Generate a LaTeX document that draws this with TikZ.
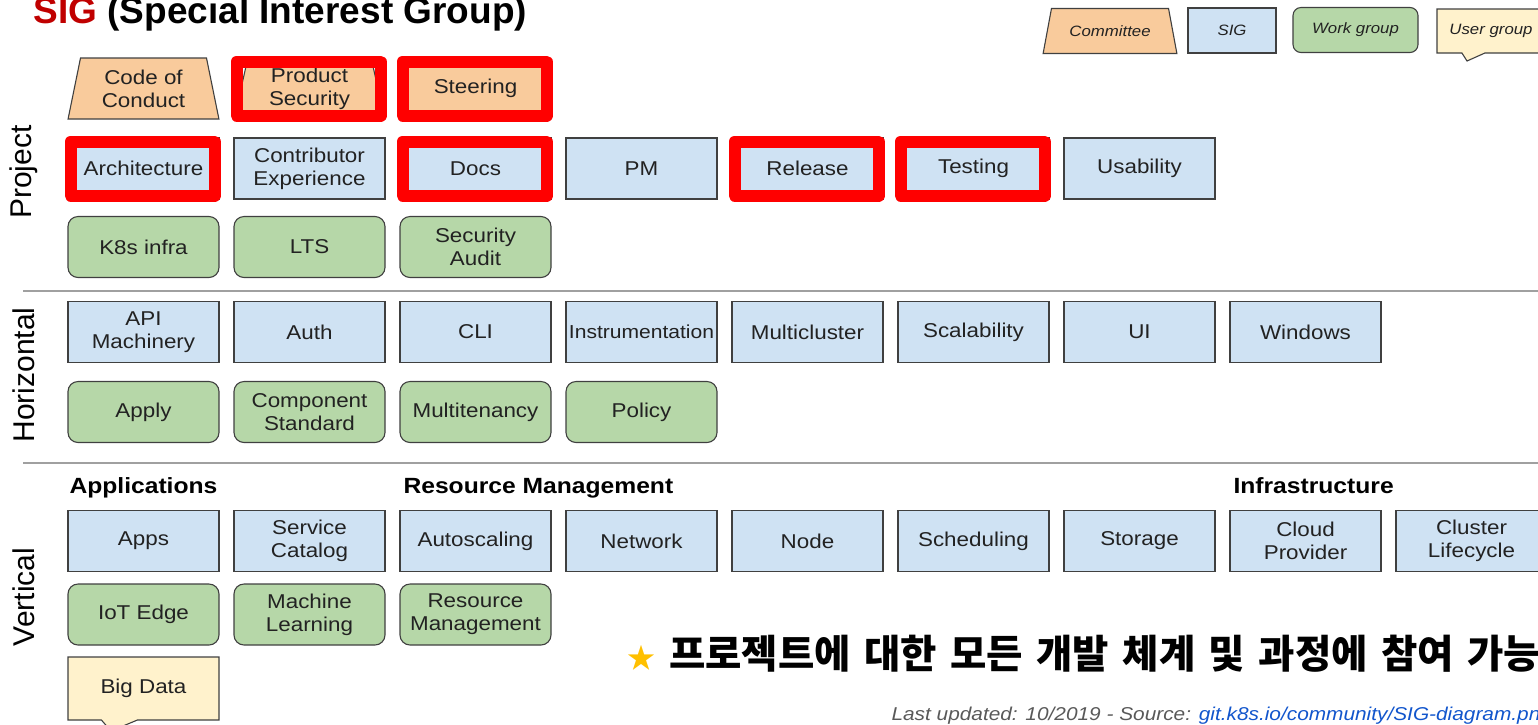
\documentclass[tikz,border=0pt]{standalone}
\usepackage{fontspec}
\setmainfont{Liberation Sans}
\newfontfamily\widefont{Liberation Sans}[FakeStretch=1.12]
\newfontfamily\cjk{Noto Sans CJK KR}
\usepackage{xcolor}
\usetikzlibrary{shapes.geometric, shapes.callouts, positioning}

\definecolor{sigblue}{HTML}{CFE2F3}
\definecolor{wggreen}{HTML}{B6D7A8}
\definecolor{cmteorange}{HTML}{F9CB9C}
\definecolor{ugyellow}{HTML}{FFF2CC}
\definecolor{boxline}{HTML}{404040}
\definecolor{txt}{HTML}{222222}
\definecolor{sigred}{HTML}{C00000}
\definecolor{starcol}{HTML}{FFC000}
\definecolor{sepgray}{HTML}{A0A0A0}
\definecolor{linkblue}{HTML}{1155CC}
\definecolor{footgray}{HTML}{595959}

\tikzset{
  box/.style={draw=boxline, line width=1.1pt, text=txt, align=center,
    font=\widefont\fontsize{20}{23}\selectfont, minimum width=151pt, minimum height=61pt, inner sep=1pt},
  sig/.style={box, fill=sigblue},
  wgrp/.style={box, fill=wggreen, rounded corners=10pt},
  cmte/.style={box, fill=cmteorange, trapezium, trapezium stretches=true,
    trapezium left angle=78, trapezium right angle=78},
  ugrp/.style={box, fill=ugyellow, rectangle callout, callout pointer width=36pt},
  redbox/.style={draw=red, line width=12pt, line join=round},
  side/.style={rotate=90, font=\fontsize{30}{30}\selectfont},
  grouplbl/.style={anchor=base west, font=\widefont\bfseries\fontsize{22}{24}\selectfont},
  legend/.style={font=\widefont\itshape\fontsize{15}{18}\selectfont, minimum height=45pt},
  sepline/.style={draw=sepgray, line width=1.5pt}
}

\begin{document}
\begin{tikzpicture}[x=1pt, y=-1pt, node distance=166pt]
\useasboundingbox (0,0) rectangle (1538,724);

% title and legend
\node (title) [anchor=base west, font=\bfseries\fontsize{37}{40}\selectfont] at (30,23)
  {\textcolor{sigred}{SIG} (Special Interest Group)};
\node (legcmte) [cmte, legend, minimum width=134pt, trapezium left angle=65.5, trapezium right angle=65.5] at (1110,31) {Committee};
\node (legsig) [sig, legend, minimum width=88pt] at (1232,30.5) {SIG};
\node (legwg) [wgrp, legend, minimum width=125pt, rounded corners=8pt] at (1355.5,30) {Work group};
\node (legug) [ugrp, legend, minimum width=108pt, minimum height=44pt, callout pointer width=23pt,
  callout absolute pointer={(1467,61)}] at (1491,31) {User group};

% side labels
\node (lblproj) [side] at (24,172) {Project};
\node (lblhoriz) [side] at (24,375) {Horizontal};
\node (lblvert) [side] at (24,597) {Vertical};

\draw[sepline] (23,291) -- (1538,291);
\draw[sepline] (23,463) -- (1538,463);

% project
\node (cconduct) [cmte] at (143.5,88.5) {Code of\\Conduct};
\node (prodsec) [right of=cconduct, cmte] {Product\\Security};
\node (steer) [right of=prodsec, cmte] {Steering};

\node (arch) [sig] at (143.5,168.5) {Architecture};
\node (contrib) [right of=arch, sig] {Contributor\\Experience};
\node (docs) [right of=contrib, sig] {Docs};
\node (pm) [right of=docs, sig] {PM};
\node (release) [right of=pm, sig] {Release};
\node (testing) [right of=release, sig] {Testing};
\node (usab) [right of=testing, sig] {Usability};

\node (k8sinfra) [wgrp] at (143.5,247) {K8s infra};
\node (lts) [right of=k8sinfra, wgrp] {LTS};
\node (secaudit) [right of=lts, wgrp] {Security\\Audit};

% horizontal
\node (apimach) [sig] at (143.5,332) {API\\Machinery};
\node (auth) [right of=apimach, sig] {Auth};
\node (cli) [right of=auth, sig] {CLI};
\node (instr) [right of=cli, sig, font=\widefont\fontsize{18.8}{23}\selectfont] {Instrumentation};
\node (multicl) [right of=instr, sig] {Multicluster};
\node (scal) [right of=multicl, sig] {Scalability};
\node (ui) [right of=scal, sig] {UI};
\node (windows) [right of=ui, sig] {Windows};

\node (apply) [wgrp] at (143.5,412) {Apply};
\node (compstd) [right of=apply, wgrp] {Component\\Standard};
\node (multiten) [right of=compstd, wgrp] {Multitenancy};
\node (policy) [right of=multiten, wgrp] {Policy};

% vertical
\node (lblapps) [grouplbl] at (66,493) {Applications};
\node (lblres) [grouplbl] at (400,493) {Resource Management};
\node (lblinfra) [grouplbl] at (1230,493) {Infrastructure};

\node (apps) [sig] at (143.5,541) {Apps};
\node (svccat) [right of=apps, sig] {Service\\Catalog};
\node (autoscal) [right of=svccat, sig] {Autoscaling};
\node (network) [right of=autoscal, sig] {Network};
\node (nodesig) [right of=network, sig] {Node};
\node (sched) [right of=nodesig, sig] {Scheduling};
\node (storage) [right of=sched, sig] {Storage};
\node (cloudprov) [right of=storage, sig] {Cloud\\Provider};
\node (clusterlc) [right of=cloudprov, sig] {Cluster\\Lifecycle};

\node (iotedge) [wgrp] at (143.5,614.5) {IoT Edge};
\node (ml) [right of=iotedge, wgrp] {Machine\\Learning};
\node (resmgmt) [right of=ml, wgrp] {Resource\\Management};

\node (bigdata) [ugrp, minimum height=63pt, callout absolute pointer={(111,731)}] at (143.5,688.5) {Big Data};

% highlights
\foreach \n in {prodsec,steer,arch,docs,release,testing}
  \draw[redbox] ([shift={(-73pt,27pt)}]\n.center) rectangle ([shift={(71pt,-27pt)}]\n.center);

% notes
\node (note) [anchor=base west, font=\cjk\bfseries\fontsize{39.5}{41}\selectfont] at (624,668)
  {\spaceskip=13.5pt\relax{\fontsize{28}{30}\selectfont\textcolor{starcol}{★}} 프로젝트에 대한 모든 개발 체계 및 과정에 참여 가능};
\node (footer) [anchor=base west, font=\widefont\itshape\fontsize{18.6}{22}\selectfont, text=footgray] at (888,720)
  {Last updated: 10/2019 - Source: \textcolor{linkblue}{git.k8s.io/community/SIG-diagram.png}};
\end{tikzpicture}
\end{document}
